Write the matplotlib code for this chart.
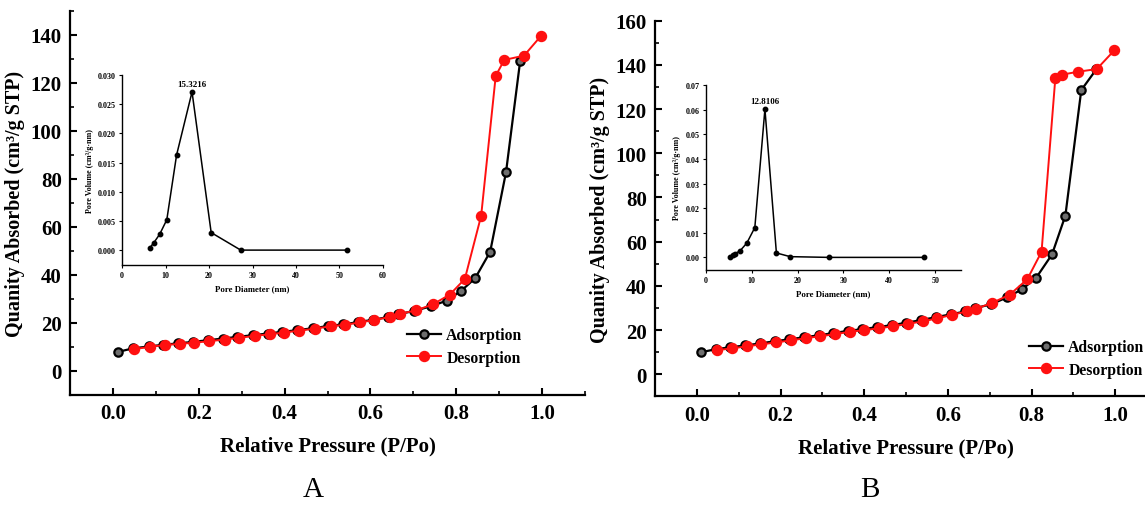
import matplotlib
matplotlib.use("Agg")
import matplotlib.pyplot as plt
from matplotlib.ticker import MultipleLocator

plt.rcParams['font.family'] = ['Liberation Serif', 'DejaVu Serif']

# ---------------- Data: panel A ----------------
a_ads_x = [0.011, 0.046, 0.083, 0.117, 0.152, 0.186, 0.221, 0.256, 0.290, 0.326, 0.361,
           0.395, 0.430, 0.466, 0.501, 0.536, 0.570, 0.605, 0.640, 0.664, 0.702, 0.742,
           0.778, 0.811, 0.844, 0.879, 0.916, 0.949, 0.958]
a_ads_y = [7.9, 9.4, 10.2, 10.9, 11.5, 12.1, 12.8, 13.5, 14.2, 14.9, 15.6,
           16.3, 17.0, 17.8, 18.7, 19.4, 20.3, 21.3, 22.4, 23.6, 25.0, 27.0,
           29.3, 33.3, 38.6, 49.6, 82.8, 129.2, 131.3]
a_des_x = [0.997, 0.958, 0.912, 0.892, 0.858, 0.820, 0.785, 0.745, 0.706, 0.668, 0.645,
           0.609, 0.575, 0.540, 0.507, 0.470, 0.434, 0.399, 0.365, 0.330, 0.294, 0.260,
           0.225, 0.190, 0.156, 0.121, 0.087, 0.050]
a_des_y = [139.4, 131.3, 129.5, 122.9, 64.6, 38.3, 31.8, 27.7, 25.2, 23.8, 22.5,
           21.2, 20.2, 19.2, 18.6, 17.6, 16.8, 16.0, 15.3, 14.6, 13.8, 13.1,
           12.4, 11.8, 11.3, 10.8, 10.1, 9.1]
a_pore_d = [6.4, 7.3, 8.65, 10.3, 12.55, 16.1, 20.5, 27.3, 51.8]
a_pore_v = [0.0004, 0.00125, 0.0027, 0.0052, 0.0163, 0.0271, 0.0030, 0.0, 0.0]
a_peak_label = "15.3216"

# ---------------- Data: panel B ----------------
b_ads_x = [0.009, 0.045, 0.080, 0.115, 0.150, 0.186, 0.221, 0.256, 0.291, 0.326, 0.361,
           0.396, 0.431, 0.466, 0.501, 0.536, 0.571, 0.607, 0.642, 0.665, 0.703, 0.742,
           0.778, 0.811, 0.849, 0.881, 0.919, 0.955]
b_ads_y = [9.9, 11.3, 12.2, 13.0, 13.9, 14.9, 15.8, 16.7, 17.6, 18.6, 19.6,
           20.4, 21.3, 22.2, 23.3, 24.5, 25.8, 27.1, 28.4, 29.9, 31.6, 34.8,
           38.5, 43.6, 54.2, 71.8, 128.6, 138.0]
b_des_x = [0.998, 0.956, 0.911, 0.874, 0.857, 0.824, 0.790, 0.748, 0.705, 0.667, 0.645,
           0.611, 0.575, 0.540, 0.505, 0.470, 0.435, 0.400, 0.365, 0.330, 0.295, 0.260,
           0.225, 0.190, 0.154, 0.119, 0.084, 0.049]
b_des_y = [146.6, 138.1, 136.9, 135.6, 134.1, 55.4, 43.0, 36.0, 32.2, 29.6, 28.4,
           26.9, 25.3, 23.9, 22.8, 21.7, 20.8, 19.9, 19.2, 18.1, 17.2, 16.3,
           15.3, 14.4, 13.5, 12.6, 11.7, 10.9]
b_pore_d = [5.4, 6.0, 6.4, 7.5, 8.95, 10.7, 12.9, 15.4, 18.4, 26.8, 47.5]
b_pore_v = [0.0, 0.0008, 0.0015, 0.0027, 0.0058, 0.0121, 0.0602, 0.0018, 0.0003, 0.0, 0.0]
b_peak_label = "12.8106"

xticks_main = [0.0, 0.2, 0.4, 0.6, 0.8, 1.0]
a_yticks = [0, 20, 40, 60, 80, 100, 120, 140]
b_yticks = [0, 20, 40, 60, 80, 100, 120, 140, 160]
a_inset_yticks = [0.000, 0.005, 0.010, 0.015, 0.020, 0.025, 0.030]
b_inset_yticks = [0.00, 0.01, 0.02, 0.03, 0.04, 0.05, 0.06, 0.07]

W, H = 1145, 506
fig = plt.figure(figsize=(W / 100, H / 100), dpi=100)
fig.patch.set_facecolor('white')


def px_rect(x0, y_top, x1, y_bot):
    return [x0 / W, 1 - y_bot / H, (x1 - x0) / W, (y_bot - y_top) / H]


def main_axes(rect, ads_x, ads_y, des_x, des_y, yticks, ylim, leg_px):
    ax = fig.add_axes(rect)
    ax.plot(ads_x, ads_y, '-o', color='black', lw=1.6, ms=6.0,
            mfc='#6e6e6e', mec='black', mew=1.6, label='Adsorption', zorder=2)
    ax.plot(des_x, des_y, '-o', color='#ff1010', lw=1.4, ms=7.2,
            mfc='#ff1010', mec='#ff1010', label='Desorption', zorder=3)
    ax.set_xlim(-0.1, 1.1)
    ax.set_ylim(*ylim)
    ax.set_xticks(xticks_main)
    ax.set_xticklabels([f"{t:.1f}" for t in xticks_main])
    ax.set_yticks(yticks)
    ax.xaxis.set_minor_locator(MultipleLocator(0.1))
    ax.yaxis.set_minor_locator(MultipleLocator(10))
    for s in ['top', 'right']:
        ax.spines[s].set_visible(False)
    for s in ['left', 'bottom']:
        ax.spines[s].set_linewidth(1.6)
    ax.tick_params(which='major', direction='in', length=5, width=1.5,
                   labelsize=15, pad=6)
    ax.tick_params(which='minor', direction='in', length=3, width=1.2)
    for lab in ax.get_xticklabels() + ax.get_yticklabels():
        lab.set_fontweight('bold')
    ax.set_xlabel('Relative Pressure (P/Po)', fontsize=15, fontweight='bold', labelpad=9)
    ax.set_ylabel('Quanity Absorbed (cm³/g STP)', fontsize=14.5, fontweight='bold', labelpad=4)
    ax.legend(loc='upper left', bbox_to_anchor=(leg_px[0] / W, 1 - leg_px[1] / H),
              bbox_transform=fig.transFigure, frameon=False,
              prop={'weight': 'bold', 'size': 11.3}, handlelength=2.15,
              handletextpad=0.35, labelspacing=0.42, borderaxespad=0, borderpad=0)
    return ax


def inset_axes(rect, d, v, xlim, xticks, ylim, yticks, yfmt, peak_label):
    ax = fig.add_axes(rect)
    ax.patch.set_alpha(0)
    ax.plot(d, v, '-o', color='black', lw=1.1, ms=3.2)
    i = max(range(len(v)), key=lambda k: v[k])
    ax.annotate(peak_label, (d[i], v[i]), xytext=(0, 3), textcoords='offset points',
                ha='center', va='bottom', fontsize=6.5, fontweight='bold')
    ax.set_xlim(*xlim)
    ax.set_ylim(*ylim)
    ax.set_xticks(xticks)
    ax.set_yticks(yticks)
    ax.set_yticklabels([yfmt.format(t) for t in yticks])
    for s in ['top', 'right']:
        ax.spines[s].set_visible(False)
    for s in ['left', 'bottom']:
        ax.spines[s].set_linewidth(1.0)
    ax.tick_params(direction='out', length=2.5, width=0.8, labelsize=5.8, pad=2)
    for lab in ax.get_xticklabels() + ax.get_yticklabels():
        lab.set_fontweight('bold')
    ax.set_xlabel('Pore Diameter (nm)', fontsize=6.3, fontweight='bold', labelpad=4)
    ax.set_ylabel('Pore Volume (cm³/g·nm)', fontsize=5.8, fontweight='bold', labelpad=3)
    return ax


axA = main_axes(px_rect(70, 11.7, 585, 396), a_ads_x, a_ads_y, a_des_x, a_des_y,
                a_yticks, (-10, 150), (407, 328))
axB = main_axes(px_rect(655, 21.7, 1157, 397.3), b_ads_x, b_ads_y, b_des_x, b_des_y,
                b_yticks, (-10, 160), (1029, 340))

inset_axes(px_rect(122, 76, 383, 265.7), a_pore_d, a_pore_v, (0, 60),
           [0, 10, 20, 30, 40, 50, 60], (-0.0025, 0.030), a_inset_yticks, "{:.3f}", a_peak_label)
inset_axes(px_rect(705.7, 86, 960.5, 270.7), b_pore_d, b_pore_v, (0, 55.5),
           [0, 10, 20, 30, 40, 50], (-0.005, 0.07), b_inset_yticks, "{:.2f}", b_peak_label)

fig.text(313 / W, 1 - 490 / H, 'A', fontsize=21, ha='center', va='center')
fig.text(870 / W, 1 - 490 / H, 'B', fontsize=21, ha='center', va='center')

fig.savefig('out.png', dpi=100, facecolor='white')
